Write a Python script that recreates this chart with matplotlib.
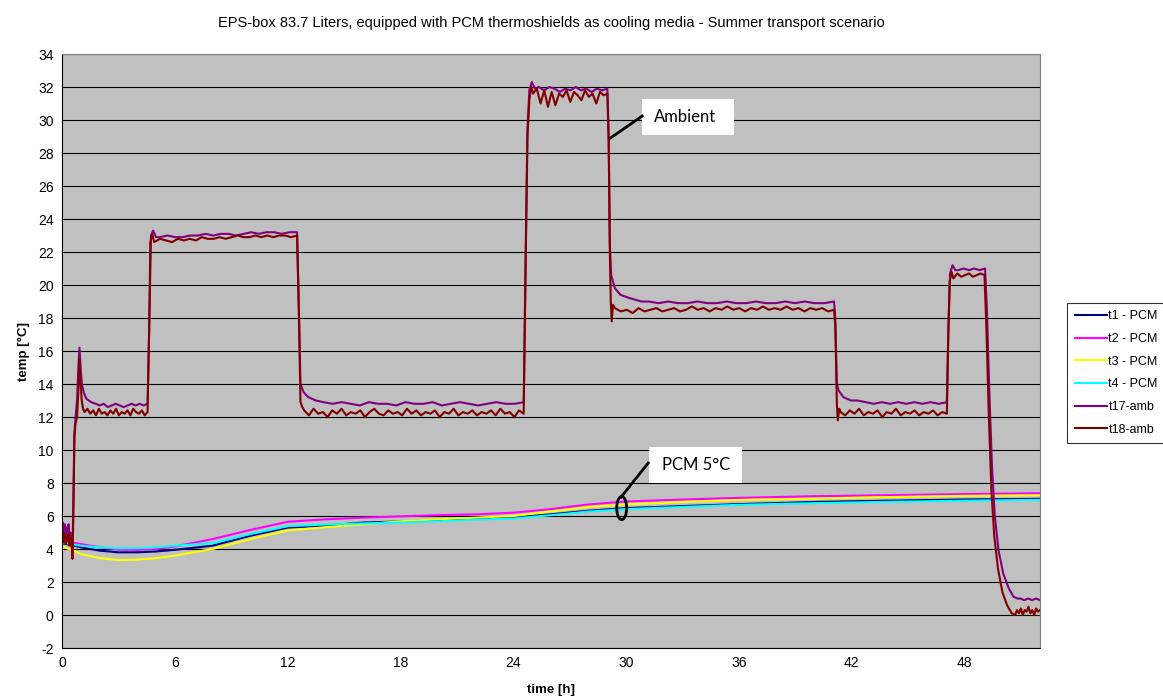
"""
EPS-box 83.7 L avec thermoshields PCM - scénario transport été
Courbes de température (PCM + ambiance)
"""

import numpy as np
import matplotlib
matplotlib.use("Agg")
import matplotlib.pyplot as plt
from matplotlib.patches import Rectangle, Ellipse

plt.rcParams['font.family'] = ['Liberation Sans', 'DejaVu Sans']
plt.rcParams['axes.unicode_minus'] = False

# --- PCM sondes ---
pcm_time = [0, 0.5, 1, 2, 3, 4, 5, 6, 8, 10, 12, 14, 16, 18, 20, 22, 24,
            26, 28, 30, 33, 36, 40, 44, 48, 52]
t1_pcm = [4.35, 4.25, 4.1, 3.9, 3.8, 3.8, 3.85, 3.95, 4.2, 4.8, 5.3, 5.42, 5.6,
          5.67, 5.75, 5.85, 5.93, 6.1, 6.32, 6.48, 6.6, 6.72, 6.85, 6.93, 7.0, 7.04]
t2_pcm = [4.5, 4.4, 4.3, 4.1, 3.97, 3.95, 4.0, 4.15, 4.6, 5.15, 5.65, 5.8, 5.9,
          5.98, 6.05, 6.1, 6.2, 6.42, 6.7, 6.88, 7.0, 7.1, 7.2, 7.26, 7.33, 7.38]
t3_pcm = [4.15, 3.95, 3.7, 3.45, 3.33, 3.35, 3.45, 3.6, 4.0, 4.6, 5.12, 5.32, 5.5,
          5.68, 5.8, 5.9, 6.0, 6.28, 6.55, 6.7, 6.85, 6.97, 7.05, 7.15, 7.22, 7.25]
t4_pcm = [4.4, 4.3, 4.2, 4.1, 4.05, 4.05, 4.1, 4.2, 4.35, 4.9, 5.38, 5.48, 5.55,
          5.6, 5.68, 5.78, 5.85, 6.05, 6.27, 6.42, 6.55, 6.68, 6.78, 6.86, 6.93, 6.98]

# --- Ambiance t17 : paliers (début, fin, valeurs) et transitions ---
t17_pieces = [
    (0.0, 0.5, [5.0, 5.6, 4.8, 5.5, 4.7, 5.3, 5.0, 5.5, 4.6, 5.0, 4.8]),
    [(0.56, 3.8), (0.6, 6.8), (0.66, 11.0), (0.72, 12.0), (0.8, 13.0), (0.87, 15.0),
     (0.93, 16.2), (0.99, 15.0), (1.06, 14.0), (1.15, 13.5), (1.3, 13.1), (1.55, 12.9)],
    (1.8, 4.55, [12.8, 12.7, 12.8, 12.6, 12.7, 12.8, 12.7, 12.6, 12.7, 12.8, 12.7, 12.8, 12.7, 12.8]),
    [(4.65, 18.0), (4.73, 23.0), (4.85, 23.3), (5.0, 22.9)],
    (5.2, 12.5, [22.9, 23.0, 22.9, 22.9, 23.0, 23.0, 23.1, 23.0, 23.1, 23.1, 23.0, 23.1,
                 23.2, 23.1, 23.2, 23.2, 23.1, 23.2, 23.2]),
    [(12.6, 18.5), (12.68, 14.0), (12.85, 13.5), (13.1, 13.2), (13.5, 13.0)],
    (13.9, 24.55, [12.9, 12.8, 12.9, 12.8, 12.7, 12.9, 12.8, 12.8, 12.7, 12.9, 12.8, 12.8,
                   12.9, 12.7, 12.8, 12.9, 12.8, 12.7, 12.8, 12.9, 12.8, 12.8, 12.9]),
    [(24.65, 21.5), (24.75, 29.5), (24.85, 31.8), (24.98, 32.3), (25.15, 31.9)],
    (25.35, 29.0, [32.0, 31.8, 32.0, 31.9, 31.7, 31.9, 31.8, 32.0, 31.8, 31.9, 31.7, 31.9,
                   31.8, 31.9]),
    [(29.07, 29.0), (29.13, 22.5), (29.2, 20.6), (29.4, 19.8), (29.7, 19.4), (30.2, 19.2),
     (30.8, 19.0)],
    (31.2, 41.05, [19.0, 18.9, 19.0, 18.9, 18.9, 19.0, 18.9, 18.9, 19.0, 18.9, 18.9, 19.0,
                   18.9, 18.9, 19.0, 18.9, 19.0, 18.9, 18.9, 19.0]),
    [(41.12, 18.0), (41.2, 14.0), (41.3, 13.6), (41.55, 13.2), (41.95, 13.0)],
    (42.3, 47.05, [13.0, 12.9, 12.8, 12.9, 12.8, 12.9, 12.8, 12.9, 12.8, 12.9, 12.8, 12.9]),
    [(47.13, 17.5), (47.22, 20.7), (47.35, 21.2), (47.5, 20.9)],
    (47.65, 49.08, [20.9, 21.0, 20.9, 21.0, 20.9, 21.0]),
    [(49.18, 18.5), (49.3, 13.8), (49.45, 9.0), (49.6, 6.0), (49.8, 3.9), (50.05, 2.5),
     (50.35, 1.6), (50.6, 1.1), (50.8, 1.0)],
    (50.95, 52.0, [1.0, 0.9, 1.0, 0.9, 1.0, 0.9]),
]

# --- Ambiance t18 ---
t18_pieces = [
    (0.0, 0.5, [4.6, 5.1, 4.4, 4.9, 4.3, 4.8, 4.5, 4.9, 4.2, 4.7, 4.4]),
    [(0.56, 3.4), (0.61, 6.5), (0.66, 10.8), (0.72, 11.6), (0.8, 12.0), (0.87, 13.5),
     (0.92, 15.5), (0.98, 14.2), (1.05, 13.0), (1.12, 12.5)],
    (1.2, 4.55, [12.3, 12.5, 12.2, 12.4, 12.1, 12.5, 12.2, 12.3, 12.1, 12.4, 12.2, 12.5,
                 12.1, 12.3, 12.2, 12.4, 12.1, 12.5, 12.3, 12.2, 12.4, 12.1, 12.3]),
    [(4.63, 17.0), (4.7, 22.6), (4.8, 23.1)],
    (4.9, 12.5, [22.6, 22.8, 22.7, 22.6, 22.8, 22.7, 22.8, 22.7, 22.9, 22.8, 22.8, 22.9,
                 22.8, 22.9, 23.0, 22.9, 22.9, 23.0, 22.9, 23.0, 22.9, 23.0, 23.0, 22.9, 23.0]),
    [(12.6, 18.0), (12.68, 12.9), (12.78, 12.6)],
    (12.88, 24.55, [12.4, 12.1, 12.5, 12.2, 12.3, 12.0, 12.4, 12.2, 12.5, 12.1, 12.3, 12.2,
                    12.4, 12.0, 12.3, 12.5, 12.2, 12.1, 12.4, 12.2, 12.3, 12.1, 12.5, 12.2,
                    12.4, 12.1, 12.3, 12.2, 12.4, 12.0, 12.3, 12.2, 12.5, 12.1, 12.3, 12.2,
                    12.4, 12.1, 12.3, 12.2, 12.4, 12.1, 12.5, 12.2, 12.3, 12.0, 12.4, 12.2]),
    [(24.65, 21.0), (24.75, 29.0), (24.85, 31.2), (24.95, 32.0)],
    (25.05, 29.0, [31.6, 31.9, 31.0, 31.8, 30.8, 31.7, 30.9, 31.6, 31.4, 31.8, 31.1, 31.7,
                   31.5, 31.2, 31.8, 31.4, 31.6, 31.0, 31.7, 31.5, 31.6]),
    [(29.07, 28.5), (29.13, 22.0), (29.18, 19.0), (29.23, 17.8), (29.3, 18.8)],
    (29.4, 41.05, [18.6, 18.4, 18.5, 18.3, 18.6, 18.4, 18.5, 18.6, 18.4, 18.5, 18.6, 18.4,
                   18.5, 18.7, 18.5, 18.6, 18.4, 18.6, 18.5, 18.7, 18.5, 18.6, 18.4, 18.6,
                   18.5, 18.7, 18.5, 18.6, 18.5, 18.7, 18.5, 18.6, 18.4, 18.6, 18.5, 18.6,
                   18.4, 18.5]),
    [(41.12, 17.5), (41.2, 12.8), (41.25, 11.8), (41.33, 12.5)],
    (41.4, 47.05, [12.3, 12.1, 12.4, 12.2, 12.5, 12.1, 12.3, 12.2, 12.4, 12.0, 12.3, 12.2,
                   12.5, 12.1, 12.3, 12.2, 12.4, 12.1, 12.3, 12.2, 12.4, 12.1, 12.3, 12.2]),
    [(47.13, 17.0), (47.2, 20.2), (47.3, 20.8)],
    (47.4, 49.05, [20.4, 20.7, 20.5, 20.6, 20.7, 20.5, 20.6, 20.7, 20.6]),
    [(49.15, 17.5), (49.27, 12.5), (49.42, 7.5), (49.57, 4.8), (49.77, 2.8), (50.0, 1.4),
     (50.25, 0.6), (50.5, 0.1), (50.68, 0.0)],
    (50.78, 52.0, [0.3, 0.1, 0.4, 0.0, 0.3, 0.2, 0.5, 0.1, 0.3, 0.0, 0.4, 0.2, 0.3]),
]


def assembler(pieces):
    """Reconstitue la série temps/température à partir des paliers lus"""
    t, y = [], []
    for p in pieces:
        if isinstance(p, tuple):
            t0, t1, vals = p
            t.extend(np.linspace(t0, t1, len(vals)))
            y.extend(vals)
        else:
            for ti, yi in p:
                t.append(ti)
                y.append(yi)
    return np.array(t), np.array(y)


t17_time, t17_amb = assembler(t17_pieces)
t18_time, t18_amb = assembler(t18_pieces)

fig = plt.figure(figsize=(11.63, 6.97), dpi=100)
ax = fig.add_axes([0.0533, 0.0703, 0.8409, 0.8522])
ax.set_facecolor('#C0C0C0')

lw = 1.5
ax.plot(pcm_time, t1_pcm, color='#000080', lw=lw, label='t1 - PCM')
ax.plot(pcm_time, t2_pcm, color='#FF00FF', lw=lw, label='t2 - PCM')
ax.plot(pcm_time, t3_pcm, color='#FFFF00', lw=lw, label='t3 - PCM')
ax.plot(pcm_time, t4_pcm, color='#00FFFF', lw=lw, label='t4 - PCM')
ax.plot(t17_time, t17_amb, color='#800080', lw=lw, label='t17-amb')
ax.plot(t18_time, t18_amb, color='#800000', lw=lw, label='t18-amb')

ax.set_xlim(0, 52)
ax.set_ylim(-2, 34)
ax.set_xticks(np.arange(0, 49, 6))
ax.set_yticks(np.arange(-2, 35, 2))
ax.tick_params(length=0, labelsize=10, pad=6)
ax.yaxis.grid(True, color='black', linewidth=0.8)
ax.set_axisbelow(True)
for s in ['top', 'right']:
    ax.spines[s].set_color('#808080')
for s in ['left', 'bottom']:
    ax.spines[s].set_color('black')

ax.set_title('EPS-box 83.7 Liters, equipped with PCM thermoshields as cooling media - '
             'Summer transport scenario', fontsize=10.5, pad=19.5)
ax.set_xlabel('time [h]', fontsize=9.5, weight='bold', labelpad=10)
ax.set_ylabel('temp [°C]', fontsize=9.5, weight='bold', labelpad=6)

# Annotations
ax.add_patch(Rectangle((30.85, 29.09), 4.89, 2.18, facecolor='white',
                       edgecolor='none', zorder=5))
ax.text(31.5, 30.18, 'Ambient', fontsize=12, family=['Lato', 'DejaVu Sans'],
        va='center', ha='left', zorder=6)
ax.plot([29.15, 30.85], [28.9, 30.24], color='black', lw=2, zorder=6)

ax.add_patch(Rectangle((31.22, 8.0), 4.95, 2.18, facecolor='white',
                       edgecolor='none', zorder=5))
ax.text(31.9, 9.09, 'PCM 5°C', fontsize=12, family=['Lato', 'DejaVu Sans'],
        va='center', ha='left', zorder=6)
ax.plot([29.73, 31.17], [7.15, 9.21], color='black', lw=2, zorder=6)
ax.add_patch(Ellipse((29.76, 6.48), 0.53, 1.4, facecolor='none',
                     edgecolor='black', lw=2, zorder=6))

leg = fig.legend(loc='upper left', bbox_to_anchor=(0.9175, 0.5653), fontsize=9,
                 frameon=True, fancybox=False, edgecolor='black',
                 handlelength=2.6, handletextpad=0.1, labelspacing=0.85,
                 borderpad=0.6, borderaxespad=0)
leg.get_frame().set_linewidth(0.8)

plt.savefig('out.png', dpi=100)
plt.close()
